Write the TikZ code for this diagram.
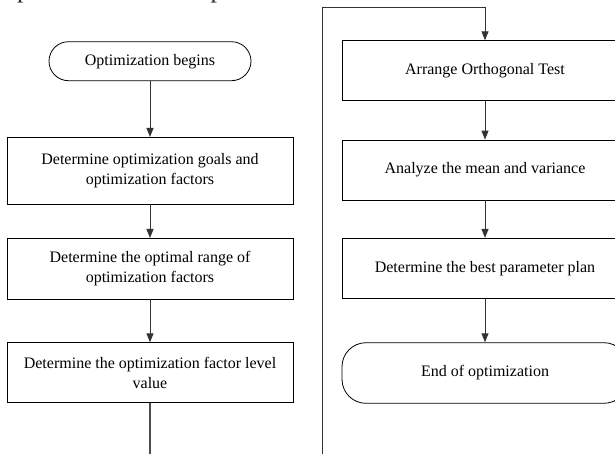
\documentclass[tikz,border=0pt]{standalone}
\usepackage{fontspec}
\setmainfont{Liberation Serif}
\usetikzlibrary{arrows.meta}
\begin{document}
\begin{tikzpicture}[x=1pt,y=-1pt,
  box/.style={draw=black,line width=0.8pt,minimum width=286pt,align=center,
    font=\fontsize{16}{20}\selectfont,inner sep=0pt},
  conn/.style={draw=black!80,line width=1pt,-{Triangle[length=9pt,width=7pt]}},
  plainline/.style={draw=black!70,line width=1.3pt}]
\useasboundingbox (0,0) rectangle (615,453);
\clip (0,0) rectangle (615,453);
\node[anchor=base west,font=\fontsize{26}{30}\selectfont,inner sep=0pt,outer sep=0pt,text=black!85] (cap) at (4pt,2.5pt) {optimization. The optimization flowchart is as follows:};
% left column
\node[box,minimum width=202pt,minimum height=39pt,rounded corners=19.5pt] (start) at (150,61.2) {Optimization begins};
\node[box,minimum height=66.7pt] (b1) at (150,170.7) {Determine optimization goals and\\optimization factors};
\node[box,minimum height=60.7pt] (b2) at (150,268.7) {Determine the optimal range of\\optimization factors};
\node[box,minimum height=60pt] (b3) at (150,372.7) {Determine the optimization factor level\\value};
% right column
\node[box,minimum height=60pt] (ra) at (485,70.7) {Arrange Orthogonal Test};
\node[box,minimum height=60pt] (rb) at (485,170) {Analyze the mean and variance};
\node[box,minimum height=60pt] (rc) at (485,268.3) {Determine the best parameter plan};
\node[box,minimum height=60.6pt,rounded corners=24pt] (end) at (485,373) {End of optimization};
% connectors
\draw[conn] (start) -- (b1);
\draw[conn] (b1) -- (b2);
\draw[conn] (b2) -- (b3);
\coordinate (lbot) at (150,470);
\draw[plainline] (b3) -- (lbot);
\coordinate (rbot) at (322,470);
\coordinate (ltop) at (322,7.3);
\coordinate (rtop) at (485,7.3);
\draw[conn] (rbot) -- (ltop) -- (rtop) -- (ra);
\draw[conn] (ra) -- (rb);
\draw[conn] (rb) -- (rc);
\draw[conn] (rc) -- (end);
\end{tikzpicture}
\end{document}
